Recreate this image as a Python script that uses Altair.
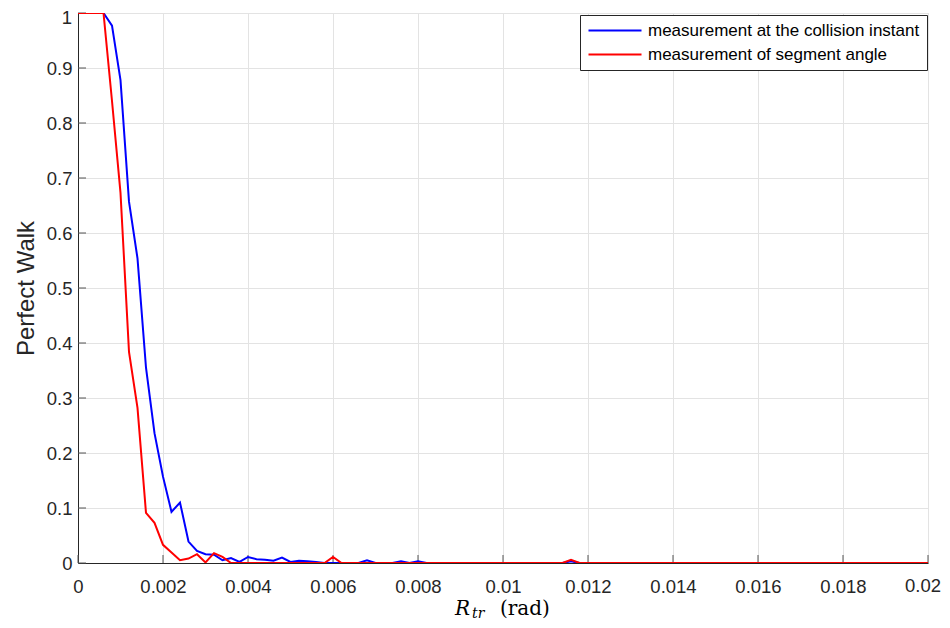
import altair as alt
import pandas as pd

# ---------------- data ----------------
x_vals = [
    0, 0.0002, 0.0004, 0.0006, 0.0008,
    0.001, 0.0012, 0.0014, 0.0016, 0.0018,
    0.002, 0.0022, 0.0024, 0.0026, 0.0028,
    0.003, 0.0032, 0.0034, 0.0036, 0.0038,
    0.004, 0.0042, 0.0044, 0.0046, 0.0048,
    0.005, 0.0052, 0.0054, 0.0056, 0.0058,
    0.006, 0.0062, 0.0064, 0.0066, 0.0068,
    0.007, 0.0072, 0.0074, 0.0076, 0.0078,
    0.008, 0.0082, 0.0084, 0.0086, 0.0088,
    0.009, 0.0092, 0.0094, 0.0096, 0.0098,
    0.010, 0.0102, 0.0104, 0.0106, 0.0108,
    0.011, 0.0112, 0.0114, 0.0116, 0.0118,
    0.012, 0.0122, 0.0124, 0.0126, 0.0128,
    0.013, 0.0132, 0.0134, 0.0136, 0.0138,
    0.014, 0.0142, 0.0144, 0.0146, 0.0148,
    0.015, 0.0152, 0.0154, 0.0156, 0.0158,
    0.016, 0.0162, 0.0164, 0.0166, 0.0168,
    0.017, 0.0172, 0.0174, 0.0176, 0.0178,
    0.018, 0.0182, 0.0184, 0.0186, 0.0188,
    0.019, 0.0192, 0.0194, 0.0196, 0.0198,
    0.020,
]

collision_vals = [
    1, 1, 1, 1, 0.977,
    0.878, 0.657, 0.554, 0.355, 0.236,
    0.157, 0.093, 0.110, 0.039, 0.022,
    0.016, 0.015, 0.005, 0.009, 0.002,
    0.011, 0.007, 0.006, 0.004, 0.010,
    0.002, 0.004, 0.003, 0.002, 0,
    0, 0, 0, 0, 0.005,
    0, 0, 0, 0.003, 0,
    0.003, 0, 0, 0, 0,
    0, 0, 0, 0, 0,
    0, 0, 0, 0, 0,
    0, 0, 0, 0.003, 0,
    0, 0, 0, 0, 0,
    0, 0, 0, 0, 0,
    0, 0, 0, 0, 0,
    0, 0, 0, 0, 0,
    0, 0, 0, 0, 0,
    0, 0, 0, 0, 0,
    0, 0, 0, 0, 0,
    0, 0, 0, 0, 0,
    0,
]

segment_vals = [
    1, 1, 1, 1, 0.84,
    0.673, 0.384, 0.282, 0.091, 0.073,
    0.033, 0.019, 0.005, 0.008, 0.016,
    0.001, 0.018, 0.011, 0, 0,
    0, 0, 0, 0, 0,
    0, 0, 0, 0, 0,
    0.011, 0, 0, 0, 0,
    0, 0, 0, 0, 0,
    0, 0, 0, 0, 0,
    0, 0, 0, 0, 0,
    0, 0, 0, 0, 0,
    0, 0, 0, 0.006, 0,
    0, 0, 0, 0, 0,
    0, 0, 0, 0, 0,
    0, 0, 0, 0, 0,
    0, 0, 0, 0, 0,
    0, 0, 0, 0, 0,
    0, 0, 0, 0, 0,
    0, 0, 0, 0, 0,
    0, 0, 0, 0, 0,
    0,
]

series_names = ["measurement at the collision instant", "measurement of segment angle"]
series_colors = ["#0000ff", "#ff0000"]

x_ticks = [0, 0.002, 0.004, 0.006, 0.008, 0.01, 0.012, 0.014, 0.016, 0.018, 0.02]
y_ticks = [0, 0.1, 0.2, 0.3, 0.4, 0.5, 0.6, 0.7, 0.8, 0.9, 1]

y_title = "Perfect Walk"

# ---------------- build ----------------
df = pd.DataFrame({
    "x": x_vals + x_vals,
    "y": collision_vals + segment_vals,
    "s": [series_names[0]] * len(x_vals) + [series_names[1]] * len(x_vals),
})

W, H = 850, 550
FONT = "Liberation Sans"
AXC = "#262626"
TICKFS = 18.5

xs = alt.Scale(domain=[0, 0.02], nice=False, zero=False)
ys = alt.Scale(domain=[0, 1], nice=False, zero=False)

x_axis = alt.Axis(values=x_ticks, format="~g", title=None, grid=True,
                  gridColor="#e3e3e3", gridWidth=1, ticks=False,
                  labelExpr="datum.value >= 0.0199 ? '' : datum.label",
                  labelPadding=14, labelFont=FONT, labelFontSize=TICKFS,
                  labelColor=AXC, domainColor=AXC, domainWidth=1,
                  labelOverlap=False, labelFlush=False)
y_axis = alt.Axis(values=y_ticks, format="~g", title=y_title, grid=True,
                  gridColor="#e3e3e3", gridWidth=1, ticks=False,
                  labelExpr="datum.value >= 0.999 ? '' : datum.label",
                  labelPadding=6, labelFont=FONT, labelFontSize=TICKFS,
                  labelColor=AXC, domainColor=AXC, domainWidth=1,
                  labelOverlap=False, labelFlush=False,
                  titleFont=FONT, titleFontSize=24, titleFontWeight="normal",
                  titleColor=AXC, titleX=-45, titleY=H / 2,
                  titleBaseline="alphabetic", titleAngle=270)

x_enc = alt.X("x:Q", scale=xs, axis=x_axis)
y_enc = alt.Y("y:Q", scale=ys, axis=y_axis)

color = alt.Color(
    "s:N",
    scale=alt.Scale(domain=series_names, range=series_colors),
    legend=alt.Legend(
        title=None, orient="none", legendX=502, legendY=2,
        symbolType="M-10,0H0.6", symbolSize=100, symbolStrokeWidth=2,
        symbolOffset=43, labelOffset=1,
        labelFont=FONT, labelFontSize=17, labelColor="black", labelLimit=500,
        padding=7, rowPadding=6, strokeColor=AXC, fillColor="white",
        cornerRadius=0,
    ),
)

base = alt.Chart(df)
line_blue = base.transform_filter(alt.datum.s == series_names[0]).mark_line(
    strokeWidth=2, clip=True).encode(x=x_enc, y=y_enc, color=color)
line_red = base.transform_filter(alt.datum.s == series_names[1]).mark_line(
    strokeWidth=2, clip=True).encode(x=x_enc, y=y_enc, color=color)

xt = alt.Chart(pd.DataFrame({"x": x_ticks})).mark_rule(
    color="#555555", strokeWidth=1).encode(
    x=x_enc, y=alt.value(H), y2=alt.value(H - 8))
yt = alt.Chart(pd.DataFrame({"y": y_ticks})).mark_rule(
    color="#555555", strokeWidth=1).encode(
    y=y_enc, x=alt.value(0), x2=alt.value(8))

# end labels kept inside the page
x_last = alt.Chart(pd.DataFrame({"x": [x_ticks[-1]]})).mark_text(
    align="right", baseline="top", dx=13, dy=14, font=FONT,
    fontSize=TICKFS, color=AXC).encode(
    x=x_enc, y=alt.value(H), text=alt.Text("x:Q", format="~g"))
y_last = alt.Chart(pd.DataFrame({"y": [y_ticks[-1]]})).mark_text(
    align="right", baseline="middle", dx=-6, dy=5, font=FONT,
    fontSize=TICKFS, color=AXC).encode(
    y=y_enc, x=alt.value(0), text=alt.Text("y:Q", format="~g"))

one = pd.DataFrame({"a": [0]})
t_r = alt.Chart(one).mark_text(
    text="R", font="DejaVu Serif", fontStyle="italic", fontSize=20,
    align="left", baseline="alphabetic", color="black").encode(
    x=alt.value(377), y=alt.value(602))
t_tr = alt.Chart(one).mark_text(
    text="tr", font="DejaVu Serif", fontStyle="italic", fontSize=14,
    align="left", baseline="alphabetic", color="black").encode(
    x=alt.value(394), y=alt.value(605))
t_rad = alt.Chart(one).mark_text(
    text="(rad)", font="DejaVu Serif", fontSize=20,
    align="left", baseline="alphabetic", color="black").encode(
    x=alt.value(422), y=alt.value(602))

chart = alt.layer(xt, yt, line_blue, line_red, x_last, y_last,
                  t_r, t_tr, t_rad).properties(
    width=W, height=H,
    autosize=alt.AutoSizeParams(type="none"),
    padding={"left": 70, "top": 5, "right": 14, "bottom": 57},
).configure_view(stroke=None).configure(background="white")

chart.save("out.html", embed_options={"renderer": "svg", "actions": False})
